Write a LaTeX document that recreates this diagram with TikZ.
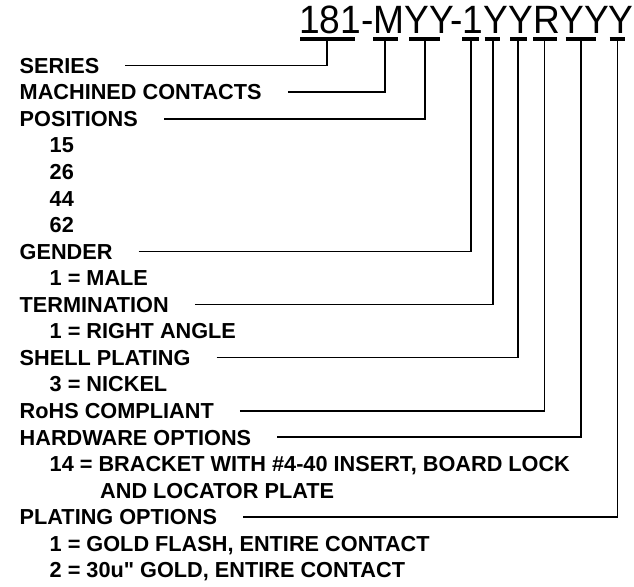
\documentclass[tikz,border=0pt]{standalone}
\usepackage{fontspec}
\setmainfont{Liberation Sans}
\newcommand{\straightquote}{\XeTeXglyph\XeTeXglyphindex"quotedbl"\relax}

\begin{document}
\begin{tikzpicture}[x=1pt,y=-1pt]

%
% Styles
%
\tikzstyle{item}   = [anchor=west,inner sep=0pt,text height=15.5pt,text depth=0pt,font=\bfseries\fontsize{21.7}{26}\selectfont]
\tikzstyle{partno} = [anchor=base west,inner sep=0pt,font=\fontsize{39.5}{40}\selectfont]
\tikzstyle{bar}    = [line width=4pt]
\tikzstyle{lead}   = [line width=1.7pt]

\useasboundingbox (0,0) rectangle (634,586);

\node[partno] (pn) at (299,33.3) {\scalebox{0.94}[1]{181-MYY-1YYRYYY}};

\draw[bar] (300,39.3)   -- (355,39.3);
\draw[bar] (373,39.3)   -- (398,39.3);
\draw[bar] (409,39.3)   -- (440,39.3);
\draw[bar] (462,39.3)   -- (479,39.3);
\draw[bar] (484.5,39.3) -- (500,39.3);
\draw[bar] (510,39.3)   -- (526.5,39.3);
\draw[bar] (533,39.3)   -- (556.5,39.3);
\draw[bar] (565.5,39.3) -- (596,39.3);
\draw[bar] (609.5,39.3) -- (625,39.3);

\coordinate (t1) at (327.3,39.3);
\coordinate (t2) at (385,39.3);
\coordinate (t3) at (425,39.3);
\coordinate (t4) at (471,39.3);
\coordinate (t5) at (493,39.3);
\coordinate (t6) at (518.3,39.3);
\coordinate (t7) at (544.5,39.3);
\coordinate (t8) at (581,39.3);
\coordinate (t9) at (617.5,39.3);

\node[item] (series)      at (19.5, 65.6) {SERIES};
\node[item] (machined)    at (19.5, 92.1) {MACHINED CONTACTS};
\node[item] (positions)   at (19.5,118.7) {POSITIONS};
\node[item] (p15)         at (49.5,145.2) {15};
\node[item] (p26)         at (49.5,171.8) {26};
\node[item] (p44)         at (49.5,198.3) {44};
\node[item] (p62)         at (49.5,224.9) {62};
\node[item] (gender)      at (19.5,251.4) {GENDER};
\node[item] (male)        at (49.5,278.0) {1 = MALE};
\node[item] (termination) at (19.5,304.5) {TERMINATION};
\node[item] (rightangle)  at (49.5,331.1) {1 = RIGHT ANGLE};
\node[item] (shell)       at (19.5,357.6) {SHELL PLATING};
\node[item] (nickel)      at (49.5,384.2) {3 = NICKEL};
\node[item] (rohs)        at (19.5,410.7) {RoHS COMPLIANT};
\node[item] (hardware)    at (19.5,437.3) {HARDWARE OPTIONS};
\node[item] (hw14)        at (49.5,463.8) {14 = BRACKET WITH \#4-40 INSERT, BOARD LOCK};
\node[item] (hw14b)       at (100,490.4)  {AND LOCATOR PLATE};
\node[item] (plating)     at (19.5,516.9) {PLATING OPTIONS};
\node[item] (gold1)       at (49.5,543.5) {1 = GOLD FLASH, ENTIRE CONTACT};
\node[item] (gold2)       at (49.5,570.0) {2 = 30u\straightquote{} GOLD, ENTIRE CONTACT};

\draw[lead] ([xshift=26pt]series.east)      -| (t1);
\draw[lead] ([xshift=26pt]machined.east)    -| (t2);
\draw[lead] ([xshift=26pt]positions.east)   -| (t3);
\draw[lead] ([xshift=26pt]gender.east)      -| (t4);
\draw[lead] ([xshift=26pt]termination.east) -| (t5);
\draw[lead] ([xshift=26pt]shell.east)       -| (t6);
\draw[lead] ([xshift=26pt]rohs.east)        -| (t7);
\draw[lead] ([xshift=26pt]hardware.east)    -| (t8);
\draw[lead] ([xshift=26pt]plating.east)     -| (t9);

\end{tikzpicture}
\end{document}
